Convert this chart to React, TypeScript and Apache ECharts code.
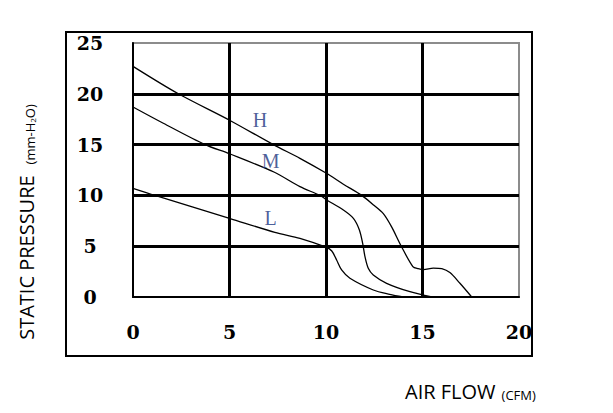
import React, { useEffect, useRef } from "react";
import * as echarts from "echarts";

const xTicks = [0, 5, 10, 15, 20];
const yTicks = [0, 5, 10, 15, 20, 25];

const curveH: [number, number][] = [
  [0, 22.7], [2.35, 20], [5, 17.4], [7.27, 15], [8.65, 13.65], [10, 12.2],
  [10.9, 11.1], [11.85, 10], [12.5, 9.0], [12.97, 8.2], [13.4, 6.9],
  [13.9, 5.0], [14.5, 3.0], [14.78, 2.79], [15.05, 2.7], [15.56, 2.85],
  [16.0, 2.79], [16.42, 2.4], [16.94, 1.35], [17.55, 0],
];
const curveM: [number, number][] = [
  [0, 18.7], [1.57, 17.1], [3.73, 15], [5, 14.1], [7.3, 12.3], [8.65, 10.86],
  [9.69, 10], [10, 9.6], [10.9, 8.56], [11.42, 7.74], [11.73, 6.6],
  [11.9, 5.28], [12.02, 3.97], [12.19, 2.82], [12.45, 2.17], [13.14, 1.35],
  [14.35, 0.52], [15.48, 0],
];
const curveL: [number, number][] = [
  [0, 10.7], [1.14, 10], [5, 7.75], [7.35, 6.36], [8.65, 5.77], [10, 4.9],
  [10.3, 4.53], [10.55, 3.64], [10.81, 2.66], [11.24, 1.84], [12.45, 0.69],
  [13.3, 0.26], [14.0, 0],
];
const curveNames = ["H", "M", "L"];
const labelPoints: [number, number][] = [
  [6.58, 17.42],
  [7.13, 13.39],
  [7.13, 7.78],
];

export default function App() {
  const ref = useRef<HTMLDivElement>(null);
  useEffect(() => {
    if (!ref.current) return;
    const chart = echarts.init(ref.current, null, { renderer: "svg" });
    const lineSeries = [curveH, curveM, curveL].map((d, i) => ({
      type: "line",
      name: curveNames[i],
      data: d,
      smooth: 0.3,
      showSymbol: false,
      symbol: "none",
      lineStyle: { color: "#000", width: 1.3 },
      z: 5,
    }));
    const tickLabel = {
      fontFamily: "DejaVu Serif",
      fontWeight: "bold",
      fontSize: 19,
      color: "#000",
    };
    chart.setOption({
      animation: false,
      backgroundColor: "#fff",
      grid: {
        left: 133,
        right: 94,
        top: 43,
        bottom: 116,
        show: true,
        borderColor: "#8c8c8c",
        borderWidth: 2,
        backgroundColor: "transparent",
      },
      xAxis: {
        type: "value",
        min: xTicks[0],
        max: xTicks[xTicks.length - 1],
        interval: 5,
        axisLine: { show: true, onZero: false, lineStyle: { color: "#000", width: 2 } },
        axisTick: { show: false },
        splitLine: {
          show: true,
          showMinLine: false,
          showMaxLine: false,
          lineStyle: { color: "#000", width: 3 },
        },
        axisLabel: { margin: 25, ...tickLabel },
      },
      yAxis: {
        type: "value",
        min: yTicks[0],
        max: yTicks[yTicks.length - 1],
        interval: 5,
        axisLine: { show: true, onZero: false, lineStyle: { color: "#000", width: 2 } },
        axisTick: { show: false },
        splitLine: {
          show: true,
          showMinLine: false,
          showMaxLine: false,
          lineStyle: { color: "#000", width: 3 },
        },
        axisLabel: { margin: 43, align: "center", ...tickLabel },
      },
      series: [
        ...lineSeries,
        {
          type: "scatter",
          data: labelPoints.map((p, i) => [p[0], p[1], curveNames[i]]),
          symbolSize: 1,
          itemStyle: { color: "transparent" },
          label: {
            show: true,
            position: "inside",
            formatter: (p: any) => p.data[2],
            fontFamily: "Liberation Serif",
            fontSize: 20,
            color: "#1c3680",
          },
          z: 6,
        },
      ],
      graphic: [
        {
          type: "rect",
          shape: { x: 66, y: 32, width: 466, height: 324 },
          style: { fill: "none", stroke: "#000", lineWidth: 2 },
          silent: true,
        },
        {
          type: "text",
          x: 26,
          y: 222,
          rotation: Math.PI / 2,
          style: {
            text: "{a|STATIC PRESSURE}{b|(mm-H}{c|2}{d|O)}",
            align: "center",
            verticalAlign: "middle",
            rich: {
              a: { fontFamily: "Open Sans", fontSize: 20, fill: "#000", verticalAlign: "bottom" },
              b: { fontFamily: "Open Sans", fontSize: 13, fill: "#000", verticalAlign: "bottom", padding: [0, 0, 0, 11] },
              c: { fontFamily: "Open Sans", fontSize: 8, fill: "#000", verticalAlign: "bottom" },
              d: { fontFamily: "Open Sans", fontSize: 13, fill: "#000", verticalAlign: "bottom" },
            },
          },
        },
        {
          type: "text",
          x: 405,
          y: 381,
          style: {
            text: "{a|AIR FLOW}{b|(CFM)}",
            align: "left",
            verticalAlign: "top",
            rich: {
              a: { fontFamily: "Open Sans", fontSize: 20, fill: "#000", verticalAlign: "bottom" },
              b: { fontFamily: "Open Sans", fontSize: 13, fill: "#000", verticalAlign: "bottom", padding: [0, 0, 0, 6] },
            },
          },
        },
      ],
    });
    return () => chart.dispose();
  }, []);
  return (
    <div
      ref={ref}
      style={{ position: "fixed", left: 0, top: 0, width: 613, height: 413, background: "#fff" }}
    />
  );
}
